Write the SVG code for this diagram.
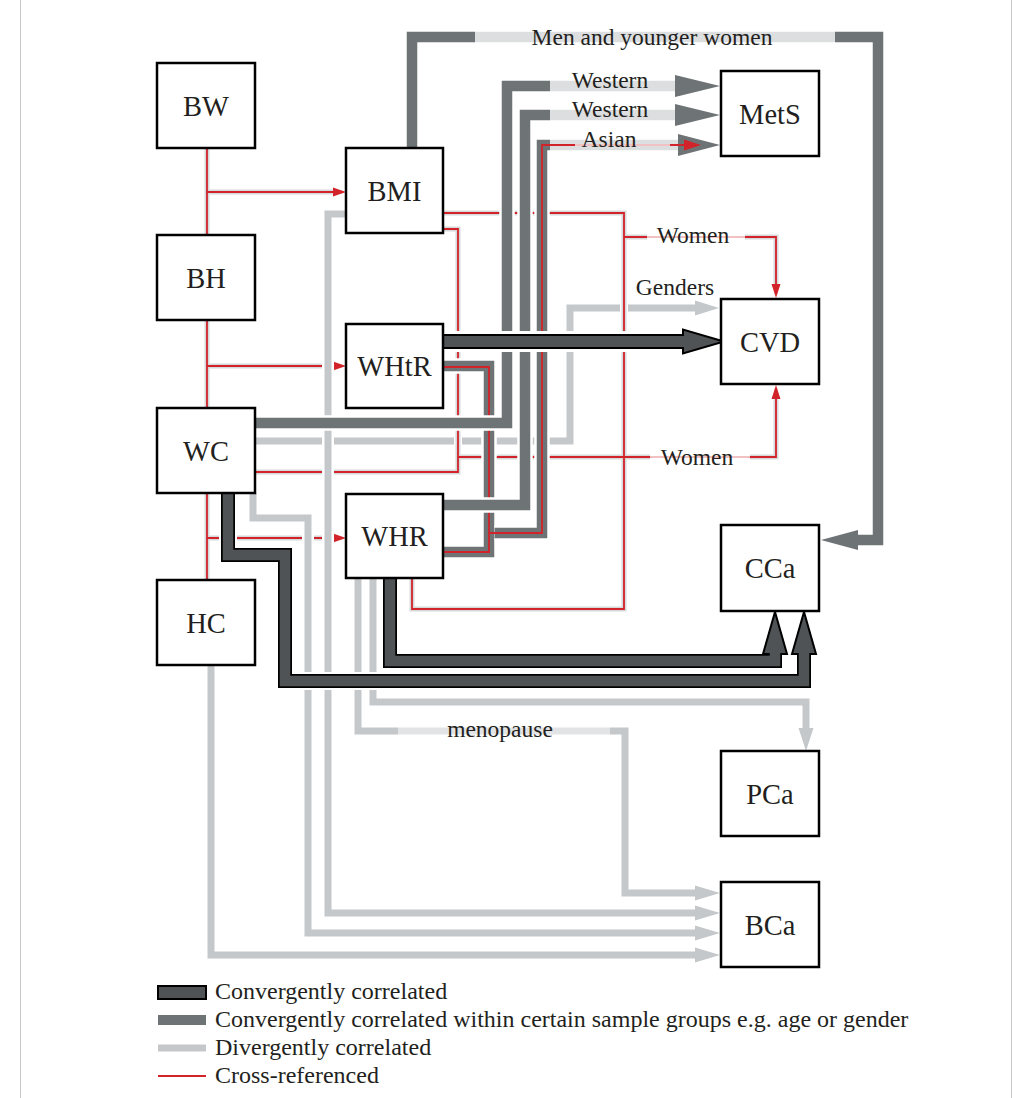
<svg xmlns="http://www.w3.org/2000/svg" width="1032" height="1098" viewBox="0 0 1032 1098">
<style>
.node rect{fill:#fff;stroke:#000;stroke-width:2.5}
.node text{font-family:"Liberation Serif","Times New Roman",serif;font-size:28.5px;fill:#231f20;text-anchor:middle}
.lbl{font-family:"Liberation Serif","Times New Roman",serif;font-size:23.5px;fill:#231f20;text-anchor:middle}
.leg{font-family:"Liberation Serif","Times New Roman",serif;font-size:24px;fill:#231f20}
.case{fill:none;stroke:#fff}
.lg{fill:none;stroke:#c4c8ca;stroke-width:7}
.lgf{fill:none;stroke:#e1e3e4;stroke-width:7}
.mg{fill:none;stroke:#6e7376;stroke-width:10.5}
.mgf{fill:none;stroke:#dcdedf;stroke-width:10.5}
.halo{fill:none;stroke:#d6d9da;stroke-width:5}
.red{fill:none;stroke:#d2232a;stroke-width:1.8}
.redf{fill:none;stroke:#f2c2c3;stroke-width:1.8}
.dkb{fill:none;stroke:#000;stroke-width:14}
.dk{fill:none;stroke:#4f5356;stroke-width:10.5}
.ah-lg{fill:#c4c8ca}
.ah-mg{fill:#6e7376}
.ah-red{fill:#d2232a}
.ah-dk{fill:#4f5356;stroke:#000;stroke-width:2}
</style>
<rect width="1032" height="1098" fill="#fff"/>
<line x1="20.5" y1="0" x2="20.5" y2="1098" stroke="#c9c9c9" stroke-width="1"/>
<line x1="1011.5" y1="0" x2="1011.5" y2="1098" stroke="#c9c9c9" stroke-width="1"/>

<g id="connectors">
  <!-- Genders (bottom-most) -->
  <g id="c-wc-cvd-genders">
    <path class="lg" d="M255,441 H570 V308 H696"/>
    <polygon class="ah-lg" points="695,300.5 719,308 695,315.5"/>
  </g>

  <!-- red cross-references -->
  <g id="c-red">
    <path class="case" stroke-width="8" d="M207,148 V235 M207,192 H334 M207,320 V408 M207,366 H334 M207,493 V580 M207,538 H334 M443,213 H624 V609 H412 V578 M624,237 H776 V284 M443,229 H458 V472 H255 M458,457 H776 V399"/>
    <path class="halo" d="M207,148 V235 M207,192 H334 M207,320 V408 M207,366 H334 M207,493 V580 M207,538 H334 M443,213 H624 V609 H412 V578 M624,237 H647 M745,237 H776 V284 M443,229 H458 V472 H255 M458,457 H650 M750,457 H776 V399"/>
    <path class="red" d="M207,148 V235 M207,192 H334 M207,320 V408 M207,366 H334 M207,493 V580 M207,538 H334 M443,213 H624 V609 H412 V578 M624,237 H647 M745,237 H776 V284 M443,229 H458 V472 H255 M458,457 H650 M750,457 H776 V399"/>
    <path class="redf" d="M647,237 H745 M650,457 H750"/>
    <polygon class="ah-red" points="333,187.5 346,192 333,196.5"/>
    <polygon class="ah-red" points="333,361.5 346,366 333,370.5"/>
    <polygon class="ah-red" points="333,533.5 346,538 333,542.5"/>
    <polygon class="ah-red" points="771.5,284 776,298 780.5,284"/>
    <polygon class="ah-red" points="771.5,399 776,385 780.5,399"/>
  </g>

  <!-- divergent (light gray) -->
  <g id="c-bmi-bca">
    <path class="case" stroke-width="12" d="M346,214 H328 V913 H696"/>
    <path class="lg" d="M346,214 H328 V913 H696"/>
    <polygon class="ah-lg" points="695,905.5 720,913 695,920.5"/>
  </g>
  <g id="c-wc-bca">
    <path class="case" stroke-width="12" d="M253,493 V518 H308 V933 H696"/>
    <path class="lg" d="M253,493 V518 H308 V933 H696"/>
    <polygon class="ah-lg" points="695,925.5 720,933 695,940.5"/>
  </g>
  <g id="c-hc-bca">
    <path class="lg" d="M211,665 V955 H696"/>
    <polygon class="ah-lg" points="695,947.5 720,955 695,962.5"/>
  </g>
  <g id="c-whr-bca">
    <path class="case" stroke-width="12" d="M358,578 V731 H625 V893 H696"/>
    <path class="lg" d="M358,578 V731 H398 M610,731 H625 V893 H696"/>
    <path class="lgf" d="M398,731 H610"/>
    <polygon class="ah-lg" points="695,885.5 720,893 695,900.5"/>
  </g>
  <g id="c-whr-pca">
    <path class="case" stroke-width="12" d="M373,578 V702 H806 V729"/>
    <path class="lg" d="M373,578 V702 H806 V729"/>
    <polygon class="ah-lg" points="798.5,728 806,751 813.5,728"/>
  </g>

  <!-- sample-group convergent (medium gray) -->
  <g id="c-whtr-whr">
    <path class="case" stroke-width="15.5" d="M443,366 H489 V552 H443"/>
    <path class="mg" d="M443,366 H489 V552 H443"/>
    <path class="red" d="M443,367 H489 V552 H443"/>
  </g>
  <g id="c-wc-mets">
    <path class="case" stroke-width="15.5" d="M255,423 H507 V86 H676"/>
    <path class="mg" d="M255,423 H507 V86 H550"/>
    <path class="mgf" d="M550,86 H676"/>
    <polygon class="ah-mg" points="675,75 720,86 675,97"/>
  </g>
  <g id="c-whr-mets">
    <path class="case" stroke-width="15.5" d="M443,505 H525 V115 H676"/>
    <path class="mg" d="M443,505 H525 V115 H550"/>
    <path class="mgf" d="M550,115 H676"/>
    <polygon class="ah-mg" points="675,104 720,115 675,126"/>
  </g>
  <g id="c-asian-mets">
    <path class="case" stroke-width="15.5" d="M494.5,533 H542 V145 H679"/>
    <path class="mg" d="M494.5,533 H542 V145 H550"/>
    <path class="mgf" d="M550,145 H679"/>
    <polygon class="ah-mg" points="678,134 720,145 678,156"/>
    <path class="red" d="M489,533 H542 V145 H575 M670,145 H686"/>
    <path class="redf" d="M575,145 H670"/>
    <polygon class="ah-red" points="684,139.5 701,145 684,150.5"/>
  </g>
  <g id="c-bmi-cca">
    <path class="mg" d="M412,148 V37 H475"/>
    <path class="mgf" d="M475,37 H835"/>
    <path class="mg" d="M835,37 H878 V540 H857"/>
    <polygon class="ah-mg" points="858,530 821,540 858,550"/>
  </g>

  <!-- convergent (dark) -->
  <g id="c-whtr-cvd">
    <polygon fill="none" stroke="#fff" stroke-width="8" points="443,335 683,335 683,329.5 724,341.5 683,353.5 683,348 443,348"/>
    <polygon class="ah-dk" points="443,335 683,335 683,329.5 724,341.5 683,353.5 683,348 443,348"/>
  </g>
  <g id="c-whr-cca">
    <path class="case" stroke-width="18" d="M390,578 V661 H775 V653"/>
    <path class="dkb" d="M390,578 V661 H775 V653"/>
    <polygon class="ah-dk" points="763,654 775,612 787,654"/>
    <path class="dk" d="M390,578 V661 H775 V652"/>
  </g>
  <g id="c-wc-cca">
    <path class="case" stroke-width="18" d="M228,493 V555 H285 V681 H804 V653"/>
    <path class="dkb" d="M228,493 V555 H285 V681 H804 V653"/>
    <polygon class="ah-dk" points="792,654 804,612 816,654"/>
    <path class="dk" d="M228,493 V555 H285 V681 H804 V652"/>
  </g>

  <!-- connector labels -->
  <g id="connector-labels">
    <text class="lbl" x="652" y="45">Men and younger women</text>
    <text class="lbl" x="610" y="88">Western</text>
    <text class="lbl" x="610" y="117">Western</text>
    <text class="lbl" x="609" y="147">Asian</text>
    <text class="lbl" x="693" y="243">Women</text>
    <text class="lbl" x="675" y="295">Genders</text>
    <text class="lbl" x="697" y="465">Women</text>
    <text class="lbl" x="500" y="737">menopause</text>
  </g>
</g>

<g id="node-bw" class="node"><rect x="157" y="63" width="98" height="85"/><text x="206" y="115.5">BW</text></g>
<g id="node-bh" class="node"><rect x="157" y="235" width="98" height="85"/><text x="206" y="287.5">BH</text></g>
<g id="node-wc" class="node"><rect x="157" y="408" width="98" height="85"/><text x="206" y="460.5">WC</text></g>
<g id="node-hc" class="node"><rect x="157" y="580" width="98" height="85"/><text x="206" y="632.5">HC</text></g>
<g id="node-bmi" class="node"><rect x="346" y="148" width="97" height="85"/><text x="394.5" y="200.5">BMI</text></g>
<g id="node-whtr" class="node"><rect x="346" y="324" width="97" height="84"/><text x="394.5" y="376">WHtR</text></g>
<g id="node-whr" class="node"><rect x="346" y="494" width="97" height="84"/><text x="394.5" y="546">WHR</text></g>
<g id="node-mets" class="node"><rect x="721" y="71" width="98" height="85"/><text x="770" y="123.5">MetS</text></g>
<g id="node-cvd" class="node"><rect x="721" y="299" width="98" height="85"/><text x="770" y="351.5">CVD</text></g>
<g id="node-cca" class="node"><rect x="721" y="525" width="98" height="86"/><text x="770" y="578">CCa</text></g>
<g id="node-pca" class="node"><rect x="721" y="751" width="98" height="85"/><text x="770" y="803.5">PCa</text></g>
<g id="node-bca" class="node"><rect x="721" y="882" width="98" height="85"/><text x="770" y="934.5">BCa</text></g>

<g id="legend">
  <rect x="158" y="986" width="48" height="13" fill="#4f5356" stroke="#000" stroke-width="2"/>
  <rect x="158" y="1015" width="48" height="10" fill="#6e7376"/>
  <rect x="158" y="1044.5" width="48" height="7" fill="#c4c8ca"/>
  <line x1="158" y1="1076" x2="206" y2="1076" stroke="#d2232a" stroke-width="2"/>
  <text class="leg" x="215" y="999">Convergently correlated</text>
  <text class="leg" x="215" y="1027">Convergently correlated within certain sample groups e.g. age or gender</text>
  <text class="leg" x="215" y="1055">Divergently correlated</text>
  <text class="leg" x="215" y="1083">Cross-referenced</text>
</g>
</svg>
